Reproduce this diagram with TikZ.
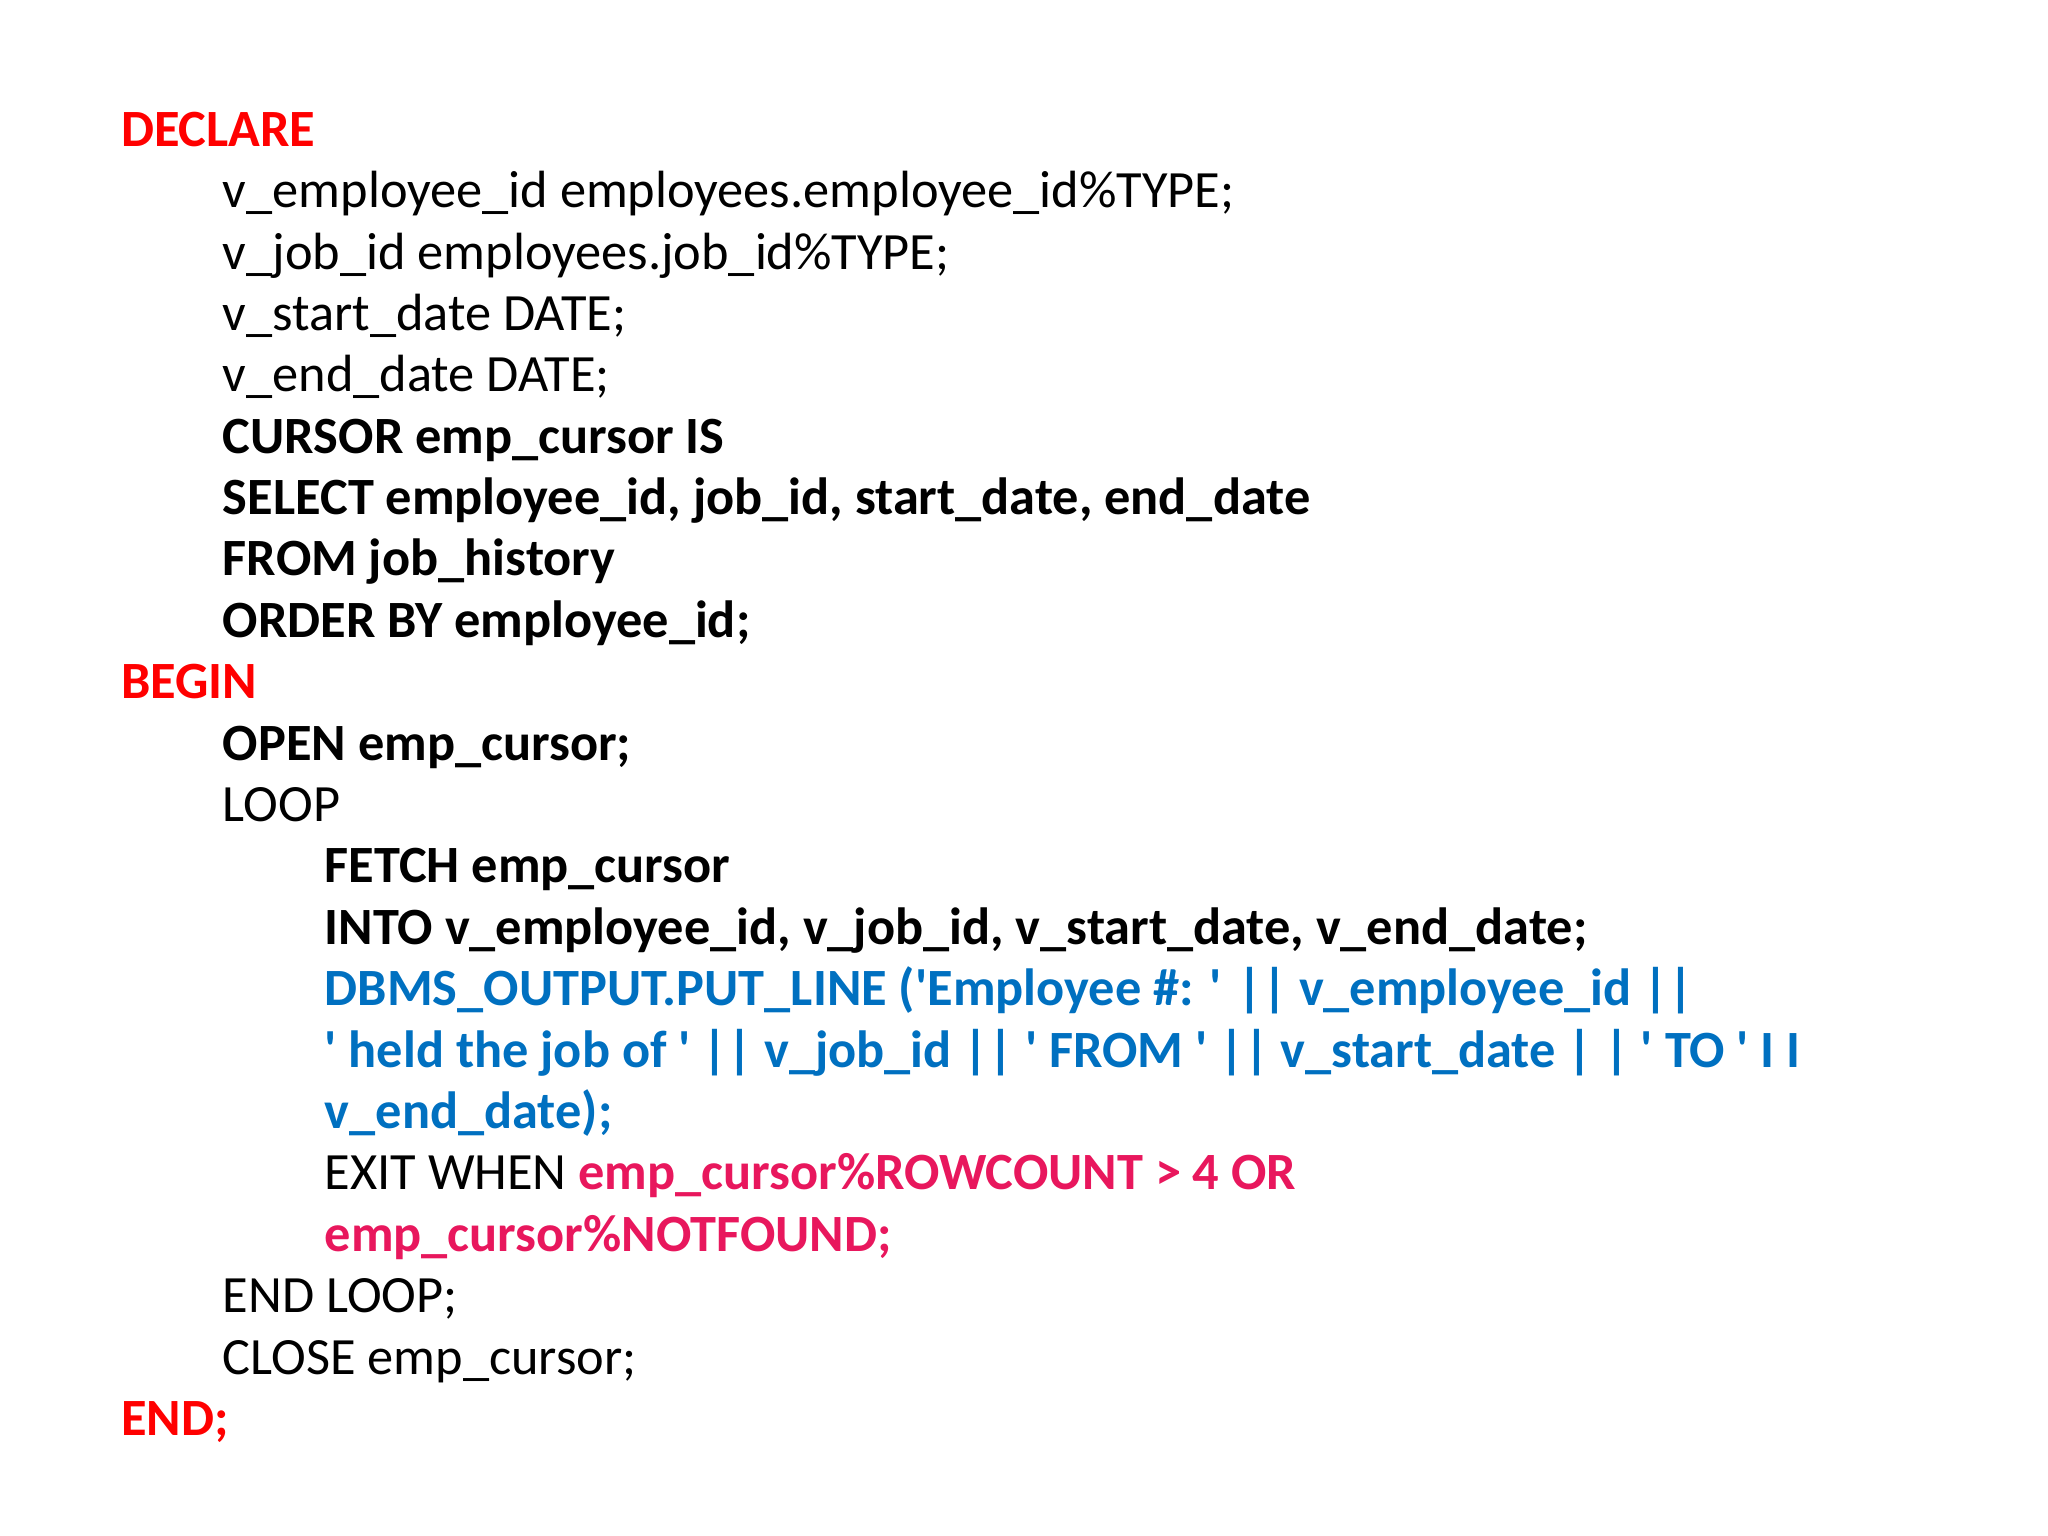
\documentclass[tikz,border=0pt]{standalone}
\usepackage{fontspec}
\setmainfont{Carlito}
\definecolor{kwred}{HTML}{FF0000}
\definecolor{dbblue}{HTML}{0070C0}
\definecolor{exitpink}{HTML}{E8175D}
\newcommand\q{\textquotesingle}
\begin{document}
\begin{tikzpicture}[x=0.01cm,y=-0.01cm,
  ln/.style={anchor=base west,inner sep=0pt,font=\fontsize{11.4}{14}\selectfont},
  bl/.style={ln,font=\fontsize{11.4}{14}\selectfont\bfseries}]
\useasboundingbox (0,0) rectangle (1568,1176);
\def\a{92}\def\b{170}\def\c{248}
\node[bl,text=kwred] (l1) at (\a,112) {DECLARE};
\node[ln] (l2) at (\b,159) {v\_employee\_id employees.employee\_id\%TYPE;};
\node[ln] (l3) at (\b,206) {v\_job\_id employees.job\_id\%TYPE;};
\node[ln] (l4) at (\b,253) {v\_start\_date DATE;};
\node[ln] (l5) at (\b,300) {v\_end\_date DATE;};
\node[bl] (l6) at (\b,347) {CURSOR emp\_cursor IS};
\node[bl] (l7) at (\b,394) {SELECT employee\_id, job\_id, start\_date, end\_date};
\node[bl] (l8) at (\b,441) {FROM job\_history};
\node[bl] (l9) at (\b,488) {ORDER BY employee\_id;};
\node[bl,text=kwred] (l10) at (\a,535) {BEGIN};
\node[bl] (l11) at (\b,582) {OPEN emp\_cursor;};
\node[ln] (l12) at (\b,629) {LOOP};
\node[bl] (l13) at (\c,676) {FETCH emp\_cursor};
\node[bl] (l14) at (\c,723) {INTO v\_employee\_id, v\_job\_id, v\_start\_date, v\_end\_date;};
\node[bl,text=dbblue] (l15) at (\c,770) {DBMS\_OUTPUT.PUT\_LINE (\q Employee \#: \q{} || v\_employee\_id ||};
\node[bl,text=dbblue] (l16) at (\c,817) {\q{} held the job of \q{} || v\_job\_id || \q{} FROM \q{} || v\_start\_date | | \q{} TO \q{} I I};
\node[bl,text=dbblue] (l17) at (\c,864) {v\_end\_date);};
\node[ln] (l18) at (\c,911) {EXIT WHEN \textcolor{exitpink}{\bfseries emp\_cursor\%ROWCOUNT > 4 OR}};
\node[bl,text=exitpink] (l19) at (\c,958) {emp\_cursor\%NOTFOUND;};
\node[ln] (l20) at (\b,1005) {END LOOP;};
\node[ln] (l21) at (\b,1052) {CLOSE emp\_cursor;};
\node[bl,text=kwred] (l22) at (\a,1099) {END;};
\end{tikzpicture}
\end{document}
